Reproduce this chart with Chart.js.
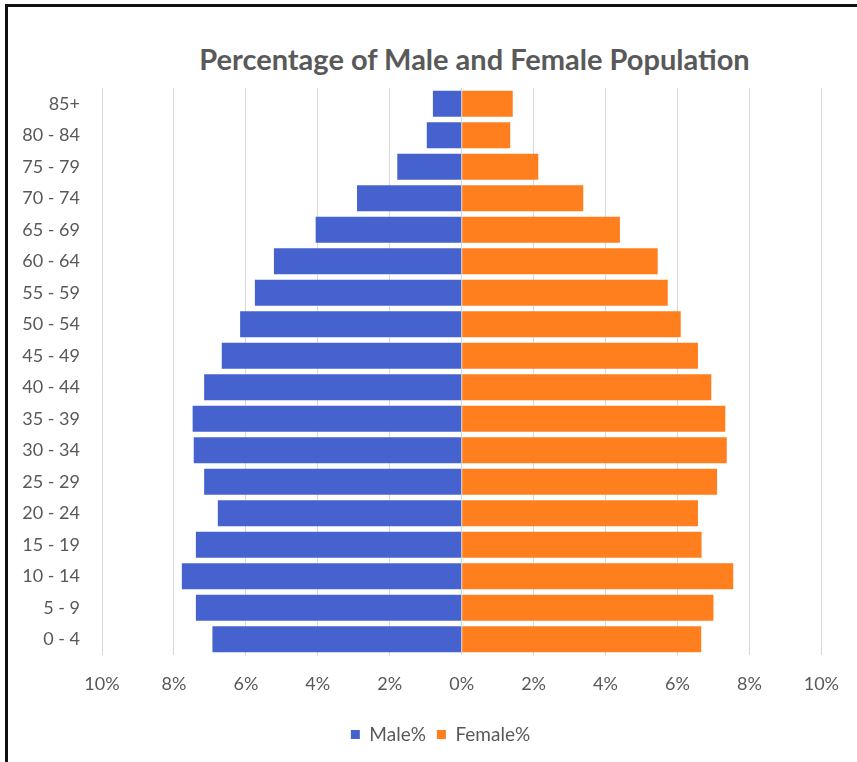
<!DOCTYPE html>
<html lang="en">
<head>
    <meta charset="UTF-8">
    <title>Percentage of Male and Female Population</title>
    <script src="https://cdn.jsdelivr.net/npm/chart.js"></script>
    <style>
        body {
            margin: 0;
            background: #fff;
            font-family: Lato, Arial, sans-serif;
            overflow: hidden;
        }
        .frame {
            position: absolute;
            left: 5px;
            top: 4px;
            width: 852px;
            height: 756px;
            border-left: 3px solid #111;
            border-top: 3px solid #111;
            border-bottom: 1px solid #ddd;
        }
        h2 {
            position: absolute;
            left: 0;
            width: 933px;
            top: 34px;
            margin: 0;
            text-align: center;
            font-size: 29px;
            font-weight: bold;
            color: #595959;
        }
        .chart-box {
            position: absolute;
            left: 0;
            top: 0;
            width: 849px;
            height: 753px;
        }
    </style>
</head>
<body>
    <div class="frame">
        <h2>Percentage of Male and Female Population</h2>
        <div class="chart-box"><canvas id="pyramid"></canvas></div>
    </div>

    <script>
        const ageGroups = ['85+', '80 - 84', '75 - 79', '70 - 74', '65 - 69', '60 - 64', '55 - 59',
            '50 - 54', '45 - 49', '40 - 44', '35 - 39', '30 - 34', '25 - 29', '20 - 24',
            '15 - 19', '10 - 14', '5 - 9', '0 - 4'];
        const malePct = [0.80, 0.97, 1.79, 2.91, 4.06, 5.22, 5.75, 6.16, 6.67, 7.16, 7.48, 7.45,
            7.16, 6.78, 7.39, 7.78, 7.39, 6.93];
        const femalePct = [1.42, 1.35, 2.13, 3.38, 4.40, 5.45, 5.73, 6.09, 6.57, 6.94, 7.33, 7.37,
            7.10, 6.57, 6.67, 7.55, 7.00, 6.66];
        const xTicks = [-10, -8, -6, -4, -2, 0, 2, 4, 6, 8, 10];

        const textGrey = '#595959';
        const ctx = document.getElementById('pyramid').getContext('2d');

        // nudge the legend a little to the right of the canvas centre
        const legendShift = {
            id: 'legendShift',
            afterLayout(chart) {
                chart.legend.left += 25;
                chart.legend.right += 25;
            }
        };

        new Chart(ctx, {
            type: 'bar',
            data: {
                labels: ageGroups,
                datasets: [
                    {
                        label: 'Male%',
                        // males go to the left of the axis
                        data: malePct.map(v => -v),
                        backgroundColor: '#4662CE',
                        barPercentage: 0.83,
                        categoryPercentage: 1
                    },
                    {
                        label: 'Female%',
                        data: femalePct,
                        backgroundColor: '#FF7F1F',
                        barPercentage: 0.83,
                        categoryPercentage: 1
                    }
                ]
            },
            options: {
                indexAxis: 'y',
                responsive: true,
                maintainAspectRatio: false,
                animation: false,
                layout: {
                    padding: { top: 81, right: 34, bottom: 6, left: 0 }
                },
                scales: {
                    x: {
                        stacked: true,
                        min: -10,
                        max: 10,
                        afterBuildTicks: axis => {
                            axis.ticks = xTicks.map(v => ({ value: v }));
                        },
                        afterFit: axis => { axis.height = 59; },
                        grid: { color: '#d9d9d9', drawTicks: false },
                        border: { display: false },
                        ticks: {
                            padding: 18,
                            color: textGrey,
                            font: { family: 'Lato', size: 18 },
                            callback: v => Math.abs(v) + '%'
                        }
                    },
                    y: {
                        stacked: true,
                        afterFit: axis => { axis.width = 94; },
                        grid: { display: false },
                        border: { display: false },
                        ticks: {
                            padding: 14,
                            color: textGrey,
                            font: { family: 'Lato', size: 18 }
                        }
                    }
                },
                plugins: {
                    legend: {
                        position: 'bottom',
                        labels: {
                            color: textGrey,
                            boxWidth: 9,
                            boxHeight: 9,
                            padding: 11,
                            font: { family: 'Lato', size: 19 }
                        }
                    },
                    tooltip: { enabled: false }
                }
            },
            plugins: [legendShift]
        });
    </script>
</body>
</html>
